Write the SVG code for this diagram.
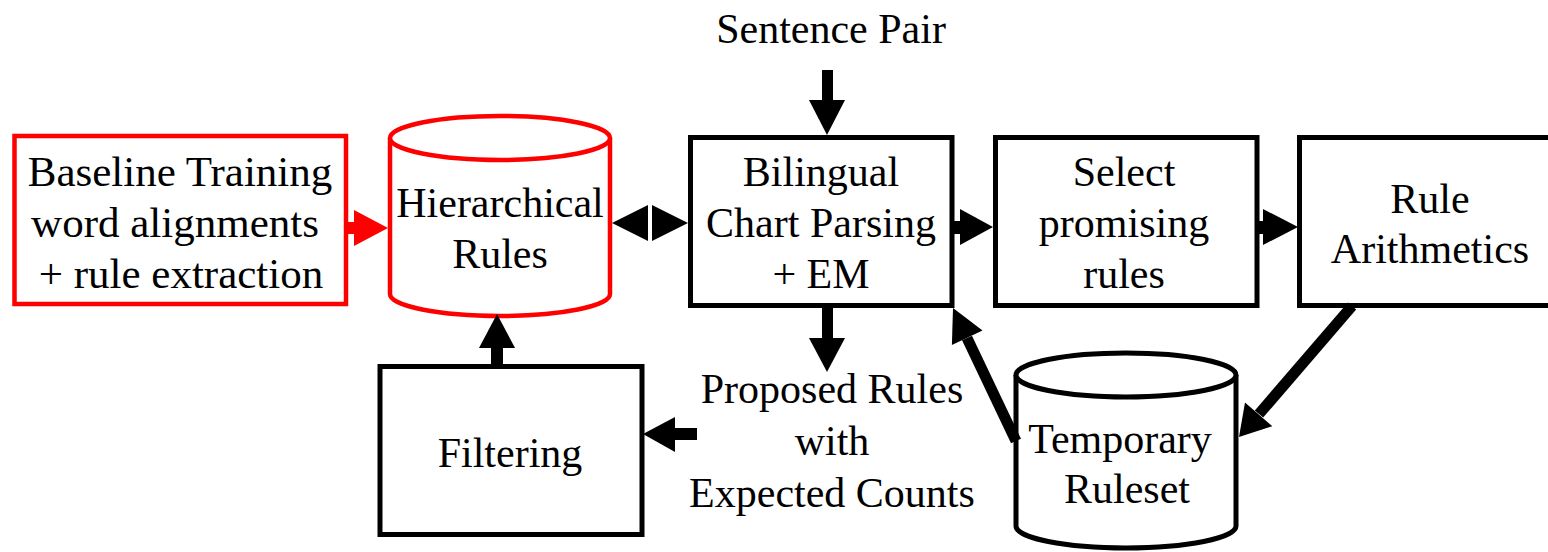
<svg xmlns="http://www.w3.org/2000/svg" width="1548" height="552" viewBox="0 0 1548 552">
  <style>
    .lbl { font-family: "Liberation Serif", "Times New Roman", serif; font-size: 42px; fill: #000; text-anchor: middle; }
    .lbl-wide { font-size: 43px; }
    .box { fill: #fff; stroke: #000; stroke-width: 5; }
    .box-red { fill: #fff; stroke: #ff0000; stroke-width: 4.5; }
    .ink { fill: #000; }
    .ink-red { fill: #ff0000; }
    .shaft { stroke: #000; stroke-width: 11; fill: none; }
  </style>
  <rect width="1548" height="552" fill="#fff"/>

  <!-- Input label -->
  <g id="sentence-pair">
    <text class="lbl" x="831" y="43">Sentence Pair</text>
  </g>

  <!-- Baseline training (red) -->
  <g id="baseline-training">
    <rect class="box-red" x="14.5" y="136" width="331.5" height="168"/>
    <text class="lbl lbl-wide" x="180" y="186">Baseline Training</text>
    <text class="lbl lbl-wide" x="175" y="237">word alignments</text>
    <text class="lbl lbl-wide" x="181" y="288">+ rule extraction</text>
  </g>

  <!-- Hierarchical rules store (red cylinder) -->
  <g id="hierarchical-rules">
    <path class="box-red" d="M390,138 L390,294 A110,22 0 0 0 610,294 L610,138 A110,22 0 0 0 390,138 Z"/>
    <path class="box-red" fill="none" d="M390,138 A110,22 0 0 0 610,138"/>
    <text class="lbl" x="500" y="217">Hierarchical</text>
    <text class="lbl" x="500" y="268">Rules</text>
  </g>

  <!-- Bilingual chart parsing -->
  <g id="bilingual-parsing">
    <rect class="box" x="690.5" y="137.5" width="261.5" height="168"/>
    <text class="lbl" x="821" y="186">Bilingual</text>
    <text class="lbl" x="821" y="237">Chart Parsing</text>
    <text class="lbl" x="821" y="288">+ EM</text>
  </g>

  <!-- Rule selection -->
  <g id="select-rules">
    <rect class="box" x="995.5" y="137.5" width="261.5" height="168"/>
    <text class="lbl" x="1124" y="186">Select</text>
    <text class="lbl" x="1124" y="237">promising</text>
    <text class="lbl" x="1124" y="288">rules</text>
  </g>

  <!-- Rule arithmetics -->
  <g id="rule-arithmetics">
    <rect class="box" x="1299.5" y="137.5" width="262" height="168"/>
    <text class="lbl" x="1430" y="213">Rule</text>
    <text class="lbl" x="1430" y="263">Arithmetics</text>
  </g>

  <!-- Proposed rules label -->
  <g id="proposed-rules">
    <text class="lbl" x="832" y="403">Proposed Rules</text>
    <text class="lbl" x="832" y="455">with</text>
    <text class="lbl" x="832" y="507">Expected Counts</text>
  </g>

  <!-- Filtering -->
  <g id="filtering">
    <rect class="box" x="380" y="366.5" width="262" height="168"/>
    <text class="lbl" x="510" y="467">Filtering</text>
  </g>

  <!-- Temporary ruleset store -->
  <g id="temporary-ruleset">
    <path class="box" d="M1016,375 L1016,526 A110,22 0 0 0 1236,526 L1236,375 A110,22 0 0 0 1016,375 Z"/>
    <path class="box" fill="none" d="M1016,375 A110,22 0 0 0 1236,375"/>
    <text class="lbl" x="1120" y="453">Temporary</text>
    <text class="lbl" x="1127" y="503">Ruleset</text>
  </g>

  <!-- Connectors -->
  <g id="connectors">
    <!-- baseline -> hierarchical (red) -->
    <rect class="ink-red" x="345" y="222" width="10" height="12"/>
    <polygon class="ink-red" points="354,210 388,228 354,246"/>

    <!-- hierarchical <-> bilingual -->
    <polygon class="ink" points="612,223 648,205 648,241"/>
    <polygon class="ink" points="652,205 688,223 652,241"/>

    <!-- sentence pair -> bilingual -->
    <rect class="ink" x="822" y="70" width="11" height="31"/>
    <polygon class="ink" points="809,100 845,100 827,135"/>

    <!-- bilingual -> select -->
    <rect class="ink" x="952" y="221" width="9" height="13"/>
    <polygon class="ink" points="960,209 993,227 960,245"/>

    <!-- select -> arithmetics -->
    <rect class="ink" x="1257" y="221" width="7" height="13"/>
    <polygon class="ink" points="1263,209 1298,227 1263,245"/>

    <!-- bilingual -> proposed rules -->
    <rect class="ink" x="822" y="305" width="11" height="34"/>
    <polygon class="ink" points="809,338 845,338 827,372"/>

    <!-- proposed rules -> filtering -->
    <rect class="ink" x="674" y="428" width="23" height="12"/>
    <polygon class="ink" points="675,417 675,452 643,434"/>

    <!-- filtering -> hierarchical -->
    <rect class="ink" x="491" y="347" width="12" height="18"/>
    <polygon class="ink" points="479,348 515,348 497,314"/>

    <!-- arithmetics -> temporary ruleset -->
    <line class="shaft" x1="1352" y1="306" x2="1259" y2="414"/>
    <polygon class="ink" points="1239,437 1245,402.6 1272.3,426.2"/>

    <!-- temporary ruleset -> bilingual -->
    <line class="shaft" x1="1016" y1="441" x2="967" y2="338"/>
    <polygon class="ink" points="953,308 982.5,330.5 951.9,345.1"/>
  </g>
</svg>
